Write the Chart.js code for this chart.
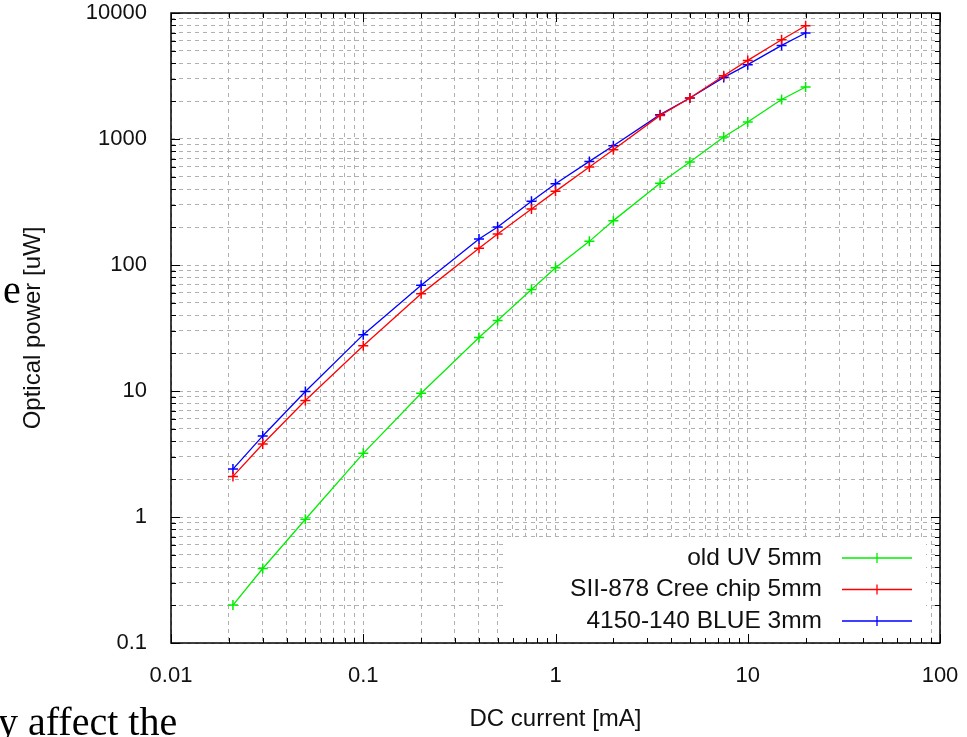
<!DOCTYPE html>
<html lang="en">
<head>
  <meta charset="UTF-8">
  <title>LED optical power vs DC current</title>
  <script src="https://cdn.jsdelivr.net/npm/chart.js"></script>
  <style>
    body {
      margin: 0;
      background: #fff;
      overflow: hidden;
    }
    .wrap {
      position: relative;
      width: 967px;
      height: 737px;
    }
    /* bits of the surrounding page text that show in the screenshot */
    .page-text {
      position: absolute;
      font-family: "Liberation Serif", "Times New Roman", serif;
      font-size: 40px;
      color: #000;
      line-height: 1;
      white-space: nowrap;
    }
  </style>
</head>
<body>
  <div class="wrap">
    <canvas id="ledChart" width="967" height="737"></canvas>
    <div class="page-text" style="left:3px; top:270px;">e</div>
    <div class="page-text" style="left:-2px; top:702px;">y affect the</div>
  </div>

  <script>
    // DC current [mA]
    const currentMA = [0.021, 0.03, 0.05, 0.1, 0.2, 0.4, 0.5, 0.75, 1, 1.5, 2, 3.5, 5, 7.5, 10, 15, 20];

    // optical power [uW]
    const oldUV = [0.2, 0.39, 0.96, 3.2, 9.6, 26.6, 36.3, 64, 95, 154, 225, 445, 656, 1037, 1365, 2057, 2586];
    const creeChip = [2.1, 3.8, 8.4, 22.9, 59, 136, 176, 278, 384, 600, 822, 1539, 2115, 3180, 4207, 6138, 7925];
    const blue3mm = [2.4, 4.4, 9.9, 28, 69, 161, 200, 320, 442, 664, 885, 1560, 2115, 3083, 3890, 5534, 6935];

    const seriesNames = ['old UV 5mm', 'SII-878 Cree chip 5mm', '4150-140 BLUE 3mm'];
    const seriesColors = ['#00ee00', '#ff0000', '#0000ff'];

    const xDecades = [0.01, 0.1, 1, 10, 100];
    const xTickLabels = ['0.01', '0.1', '1', '10', '100'];
    const yDecades = [0.1, 1, 10, 100, 1000, 10000];
    const yTickLabels = ['0.1', '1', '10', '100', '1000', '10000'];

    const FONT = "'Liberation Sans', Arial, sans-serif";
    Chart.defaults.font.family = FONT;
    Chart.defaults.color = '#111';

    function toPoints(ys) {
      return currentMA.map((x, i) => ({ x: x, y: ys[i] }));
    }

    // every 1..9 multiple of each decade, so the grid has the minor lines too
    function logTicks(decades) {
      const out = [];
      decades.forEach((d, i) => {
        if (i === decades.length - 1) {
          out.push({ value: d, major: true });
          return;
        }
        for (let k = 1; k <= 9; k++) out.push({ value: d * k, major: k === 1 });
      });
      return out;
    }

    function decadeLabel(value, decades, labels) {
      for (let i = 0; i < decades.length; i++) {
        if (Math.abs(value - decades[i]) < decades[i] * 1e-6) return labels[i];
      }
      return '';
    }

    // fixed axis sizes, and no extra room for labels hanging past the ends
    function fixSize(prop, size) {
      return s => {
        s[prop] = size;
        s.paddingTop = s.paddingBottom = s.paddingLeft = s.paddingRight = 0;
      };
    }

    // key box, frame and inward ticks on all four sides (gnuplot style)
    const gnuplotFrame = {
      id: 'gnuplotFrame',
      afterDatasetsDraw(chart) {
        const { ctx, chartArea: a, scales } = chart;

        // key
        const boxL = a.left + 334, boxT = a.top + 524;
        ctx.save();
        ctx.fillStyle = '#fff';
        ctx.fillRect(boxL, boxT, a.right - 14 - boxL, a.bottom - boxT);
        ctx.font = '24.5px ' + FONT;
        ctx.textAlign = 'right';
        ctx.textBaseline = 'middle';
        chart.data.datasets.forEach((ds, i) => {
          const yy = a.top + 545 + i * 31.5;
          ctx.fillStyle = '#111';
          ctx.fillText(ds.label, a.left + 651, yy);
          ctx.strokeStyle = ds.borderColor;
          ctx.lineWidth = 1.3;
          ctx.beginPath();
          ctx.moveTo(a.left + 671, yy);
          ctx.lineTo(a.left + 741, yy);
          ctx.moveTo(a.left + 706, yy - 5);
          ctx.lineTo(a.left + 706, yy + 5);
          ctx.stroke();
        });

        // ticks
        ctx.strokeStyle = '#000';
        ctx.lineWidth = 1;
        ctx.beginPath();
        scales.x.ticks.forEach(t => {
          const px = Math.round(scales.x.getPixelForValue(t.value)) + 0.5;
          const len = t.major ? 9 : 5;
          ctx.moveTo(px, a.bottom); ctx.lineTo(px, a.bottom - len);
          ctx.moveTo(px, a.top); ctx.lineTo(px, a.top + len);
        });
        scales.y.ticks.forEach(t => {
          const py = Math.round(scales.y.getPixelForValue(t.value)) + 0.5;
          const len = t.major ? 9 : 5;
          ctx.moveTo(a.left, py); ctx.lineTo(a.left + len, py);
          ctx.moveTo(a.right, py); ctx.lineTo(a.right - len, py);
        });
        ctx.stroke();

        // frame
        ctx.lineWidth = 1.5;
        ctx.strokeRect(a.left, a.top, a.right - a.left, a.bottom - a.top);
        ctx.restore();
      }
    };

    const datasets = [oldUV, creeChip, blue3mm].map((ys, i) => ({
      label: seriesNames[i],
      data: toPoints(ys),
      borderColor: seriesColors[i],
      backgroundColor: seriesColors[i],
      borderWidth: 1.3,
      pointStyle: 'cross',
      pointRadius: 5,
      pointBorderWidth: 1.5,
      pointBorderColor: seriesColors[i],
      tension: 0
    }));

    const gridOpts = {
      color: '#b0b0b0',
      lineWidth: 1,
      drawTicks: false
    };

    new Chart(document.getElementById('ledChart').getContext('2d'), {
      type: 'line',
      data: { datasets: datasets },
      plugins: [gnuplotFrame],
      options: {
        responsive: false,
        animation: false,
        layout: { padding: { top: 13, right: 27, left: 0, bottom: 0 } },
        plugins: {
          legend: { display: false },
          tooltip: { enabled: false }
        },
        scales: {
          x: {
            type: 'logarithmic',
            min: 0.01,
            max: 100,
            afterBuildTicks: s => { s.ticks = logTicks(xDecades); },
            afterFit: fixSize('height', 94),
            grid: gridOpts,
            border: { display: false, dash: [4, 4] },
            ticks: {
              autoSkip: false,
              maxRotation: 0,
              padding: 20,
              font: { size: 22 },
              color: '#111',
              callback: v => decadeLabel(v, xDecades, xTickLabels)
            },
            title: {
              display: true,
              text: 'DC current [mA]',
              font: { size: 24 },
              color: '#111',
              padding: { top: 0, bottom: 3 }
            }
          },
          y: {
            type: 'logarithmic',
            min: 0.1,
            max: 10000,
            afterBuildTicks: s => { s.ticks = logTicks(yDecades); },
            afterFit: fixSize('width', 171),
            grid: gridOpts,
            border: { display: false, dash: [4, 4] },
            ticks: {
              autoSkip: false,
              padding: 24,
              font: { size: 22 },
              color: '#111',
              callback: v => decadeLabel(v, yDecades, yTickLabels)
            },
            title: {
              display: true,
              text: 'Optical power [uW]',
              font: { size: 24 },
              color: '#111',
              padding: { top: 19, bottom: 0 }
            }
          }
        }
      }
    });
  </script>
</body>
</html>
